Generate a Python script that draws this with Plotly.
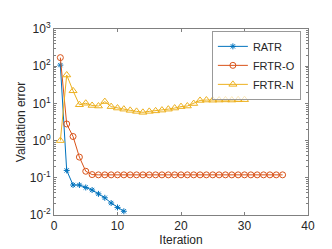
import plotly.graph_objects as go

iter_ratr = list(range(1, 12))
ratr = [107, 0.158, 0.064, 0.064, 0.055, 0.047, 0.037, 0.029, 0.021, 0.016, 0.0126]

iter_frtr_o = list(range(1, 37))
frtr_o = [170, 2.8, 1.29, 0.36, 0.15, 0.122] + [0.12] * 30

iter_frtr_n = list(range(1, 31))
frtr_n = [1.0, 58, 21.8, 9.2, 10.1, 8.8, 8.5, 11.2, 8.2, 7.5, 7.0, 6.5, 6.1, 5.75,
          6.1, 6.3, 6.6, 7.0, 7.5, 8.2, 8.5, 9.9, 12.0, 12.3, 12.2, 12.3, 12.4, 12.3, 12.5, 12.6]

ytick_vals = [1e-2, 1e-1, 1e0, 1e1, 1e2, 1e3]
ytick_text = ["10<sup>-2</sup>", "10<sup>-1</sup>", "10<sup>0</sup>", "10<sup>1</sup>", "10<sup>2</sup>", "10<sup>3</sup>"]
xtick_vals = [0, 10, 20, 30, 40]

FONT = "Liberation Sans, Arial, sans-serif"

fig = go.Figure()
fig.add_trace(go.Scatter(x=iter_ratr, y=ratr, name="RATR", mode="lines+markers",
                         line=dict(color="#0072BD", width=1),
                         marker=dict(symbol="asterisk-open", size=5, color="#0072BD", line=dict(width=1, color="#0072BD"))))
fig.add_trace(go.Scatter(x=iter_frtr_o, y=frtr_o, name="FRTR-O", mode="lines+markers",
                         line=dict(color="#D95319", width=1),
                         marker=dict(symbol="circle-open", size=6, color="#D95319", line=dict(width=1))))
fig.add_trace(go.Scatter(x=iter_frtr_n, y=frtr_n, name="FRTR-N", mode="lines+markers",
                         line=dict(color="#EDB120", width=1),
                         marker=dict(symbol="triangle-up-open", size=7, color="#EDB120", line=dict(width=1))))

axis_common = dict(showline=True, linecolor="#808080", linewidth=1, mirror="ticks",
                   ticks="inside", tickcolor="#808080", showgrid=False, zeroline=False,
                   tickfont=dict(family=FONT, size=12, color="#262626"))

fig.update_xaxes(range=[0, 40], tickvals=xtick_vals, ticklen=3,
                 title=dict(text="Iteration", standoff=3,
                            font=dict(family=FONT, size=12, color="#262626")),
                 **axis_common)
fig.update_yaxes(type="log", range=[-2, 3], tickvals=ytick_vals, ticktext=ytick_text, ticklen=3,
                 minor=dict(ticks="inside", ticklen=2, tickcolor="#808080", dtick="D1", showgrid=False),
                 title=dict(text="Validation error", standoff=1,
                            font=dict(family=FONT, size=12, color="#262626")),
                 **axis_common)

fig.update_layout(
    width=332, height=249,
    margin=dict(l=46, r=32, t=18, b=35),
    paper_bgcolor="white", plot_bgcolor="white",
    showlegend=True,
    legend=dict(x=0.972, y=0.99, xanchor="right", yanchor="top",
                bgcolor="rgba(255,255,255,0.7)", bordercolor="#999999", borderwidth=1,
                font=dict(family=FONT, size=11, color="#262626"),
                tracegroupgap=0, itemwidth=30),
)

fig.write_html("out.html")
